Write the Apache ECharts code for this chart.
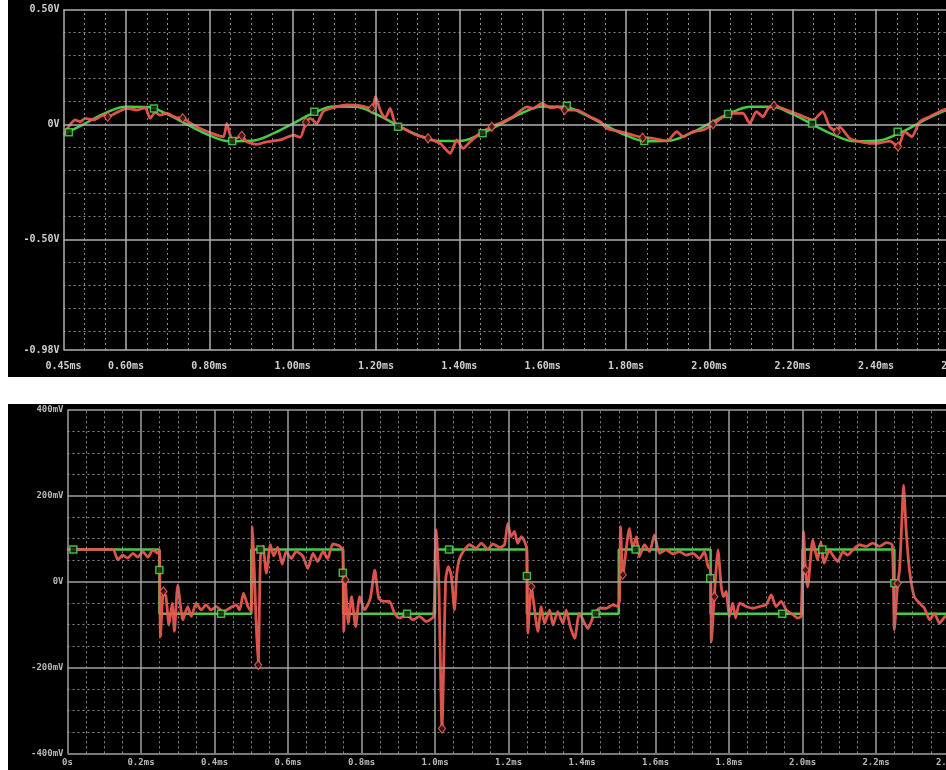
<!DOCTYPE html>
<html><head><meta charset="utf-8">
<script src="https://cdn.jsdelivr.net/npm/echarts@6/dist/echarts.min.js"></script>
<style>
html,body{margin:0;padding:0;background:#fff;width:946px;height:770px;overflow:hidden}
#top{position:absolute;left:8px;top:0;width:938px;height:377px;background:#000}
#bot{position:absolute;left:8px;top:404px;width:938px;height:366px;background:#000}
</style></head>
<body><div id="top"></div><div id="bot"></div>
<script>
// ---------- TOP CHART DATA (time in ms, volts) ----------
const topXTicks  = [0.45,0.6,0.8,1.0,1.2,1.4,1.6,1.8,2.0,2.2,2.4,2.6];
const topXLabels = ['0.45ms','0.60ms','0.80ms','1.00ms','1.20ms','1.40ms','1.60ms','1.80ms','2.00ms','2.20ms','2.40ms','2.60ms'];
const topYTicks  = [0.5,0,-0.5,-0.98];
const topYLabels = ['0.50V','0V','-0.50V','-0.98V'];

const topGreenT = [0.45,0.50,0.55,0.60,0.65,0.70,0.75,0.80,0.85,0.90,0.95,1.00,1.05,1.10,1.15,1.20,1.25,1.30,1.35,1.40,1.45,1.50,1.55,1.60,1.65,1.70,1.75,1.80,1.85,1.90,1.95,2.00,2.05,2.10,2.15,2.20,2.25,2.30,2.35,2.40,2.45,2.50,2.55,2.60];
const topGreenV = [-0.043,0.003,0.049,0.077,0.076,0.044,-0.003,-0.047,-0.073,-0.071,-0.042,0.004,0.050,0.078,0.077,0.045,-0.002,-0.046,-0.072,-0.072,-0.043,0.003,0.050,0.078,0.077,0.044,-0.003,-0.047,-0.073,-0.071,-0.042,0.004,0.049,0.077,0.077,0.045,-0.002,-0.046,-0.073,-0.071,-0.043,0.003,0.049,0.077];

const topRedT = [0.454,0.478,0.490,0.502,0.522,0.546,0.556,0.582,0.602,0.626,0.646,0.658,0.670,0.682,0.698,0.718,0.736,0.762,0.786,0.818,0.834,0.842,0.850,0.857,0.878,0.890,0.914,0.938,0.970,1.002,1.018,1.032,1.042,1.058,1.073,1.097,1.130,1.162,1.190,1.199,1.210,1.222,1.234,1.246,1.266,1.298,1.325,1.354,1.378,1.394,1.409,1.426,1.450,1.478,1.505,1.529,1.562,1.577,1.598,1.618,1.637,1.653,1.682,1.713,1.738,1.754,1.786,1.817,1.840,1.865,1.898,1.922,1.937,1.961,1.985,2.009,2.033,2.057,2.081,2.097,2.113,2.129,2.141,2.155,2.186,2.218,2.249,2.272,2.289,2.306,2.313,2.337,2.369,2.402,2.434,2.453,2.469,2.486,2.505,2.529,2.561,2.600];
const topRedV = [-0.031,0.020,0.012,0.027,0.020,0.041,0.034,0.056,0.070,0.063,0.073,0.027,0.053,0.041,0.049,0.031,0.027,-0.002,-0.024,-0.046,-0.053,0.005,-0.046,-0.067,-0.049,-0.075,-0.086,-0.075,-0.067,-0.046,-0.056,0.010,0.027,0.005,0.056,0.073,0.085,0.082,0.070,0.121,0.063,0.027,0.070,0.005,-0.017,-0.046,-0.060,-0.082,-0.125,-0.067,-0.104,-0.075,-0.038,-0.010,0.012,0.034,0.077,0.070,0.092,0.073,0.077,0.063,0.063,0.034,0.012,-0.017,-0.031,-0.046,-0.057,-0.060,-0.072,-0.031,-0.053,-0.031,-0.024,0.001,0.034,0.049,0.049,0.005,0.056,0.034,0.070,0.082,0.063,0.041,0.020,0.056,-0.010,-0.031,-0.010,-0.060,-0.077,-0.082,-0.072,-0.096,-0.031,-0.053,0.012,0.034,0.063,0.080];

const topGreenMarkT = [0.463,0.667,0.855,1.052,1.253,1.456,1.658,1.844,2.045,2.247,2.452];
const topGreenMarkV = [-0.034,0.070,-0.072,0.056,-0.010,-0.038,0.082,-0.072,0.046,0.005,-0.031];
const topRedMarkT = [0.556,0.736,0.878,1.032,1.190,1.325,1.478,1.653,1.840,2.009,2.155,2.306,2.453];
const topRedMarkV = [0.034,0.027,-0.049,0.010,0.070,-0.060,-0.010,0.063,-0.057,0.001,0.082,-0.031,-0.096];

// ---------- BOTTOM CHART DATA (time in ms, mV) ----------
const botXTicks  = [0,0.2,0.4,0.6,0.8,1.0,1.2,1.4,1.6,1.8,2.0,2.2,2.4];
const botXLabels = ['0s','0.2ms','0.4ms','0.6ms','0.8ms','1.0ms','1.2ms','1.4ms','1.6ms','1.8ms','2.0ms','2.2ms','2.4ms'];
const botYTicks  = [400,200,0,-200,-400];
const botYLabels = ['400mV','200mV','0V','-200mV','-400mV'];

const botGreenT = [0,0.25,0.25,0.5,0.5,0.75,0.75,1.0,1.0,1.25,1.25,1.5,1.5,1.75,1.75,2.0,2.0,2.25,2.25,2.4];
const botGreenV = [75,75,-75,-75,75,75,-75,-75,75,75,-75,-75,75,75,-75,-75,75,75,-75,-75];

const botRedT = [0,0.123,0.137,0.150,0.164,0.178,0.191,0.205,0.219,0.232,0.246,0.250,0.253,0.261,0.268,0.276,0.285,0.291,0.300,0.314,0.327,0.337,0.350,0.364,0.377,0.391,0.405,0.423,0.441,0.459,0.468,0.479,0.491,0.500,0.503,0.507,0.513,0.519,0.525,0.532,0.541,0.552,0.561,0.572,0.584,0.595,0.609,0.622,0.640,0.654,0.668,0.681,0.695,0.708,0.722,0.740,0.749,0.752,0.756,0.764,0.773,0.784,0.795,0.808,0.824,0.836,0.847,0.860,0.876,0.890,0.903,0.922,0.940,0.958,0.976,0.996,1.003,1.010,1.019,1.029,1.036,1.044,1.053,1.059,1.067,1.080,1.094,1.112,1.126,1.144,1.157,1.176,1.189,1.198,1.207,1.216,1.225,1.235,1.244,1.250,1.253,1.262,1.280,1.289,1.298,1.312,1.321,1.334,1.348,1.357,1.368,1.380,1.393,1.416,1.434,1.448,1.466,1.484,1.497,1.502,1.505,1.511,1.529,1.538,1.548,1.556,1.570,1.584,1.597,1.611,1.629,1.647,1.665,1.684,1.702,1.720,1.733,1.743,1.750,1.752,1.760,1.770,1.779,1.785,1.792,1.801,1.810,1.818,1.829,1.847,1.865,1.883,1.901,1.915,1.928,1.942,1.956,1.974,1.987,1.996,2.003,2.008,2.014,2.028,2.041,2.050,2.059,2.073,2.082,2.096,2.110,2.123,2.137,2.155,2.173,2.191,2.209,2.228,2.244,2.250,2.259,2.264,2.270,2.275,2.282,2.291,2.304,2.318,2.332,2.346,2.359,2.373,2.389,2.400];
const botRedV = [75,75,51,62,55,66,57,70,57,74,66,74,-128,-23,-35,-101,-50,-116,-8,-89,-58,-81,-50,-66,-54,-66,-58,-70,-62,-54,-66,-27,-58,-70,128,58,-89,-194,58,82,20,86,60,80,41,70,54,70,60,31,66,47,70,54,88,83,74,-116,4,-97,-35,-105,-35,-66,-39,27,-39,-46,-46,-74,-85,-77,-89,-81,-93,-81,121,12,-342,4,35,16,-66,16,54,74,86,78,90,75,88,80,86,136,105,117,89,105,93,74,-120,-12,-116,-58,-97,-66,-101,-70,-97,-66,-105,-132,-74,-109,-74,-62,-62,-54,-58,-43,128,16,124,78,105,58,86,70,109,66,74,65,70,62,66,54,70,35,27,-140,-35,74,-12,-35,-23,-81,-50,-85,-50,-58,-62,-58,-54,-31,-58,-46,-66,-77,-85,-81,117,27,-12,97,50,93,43,74,62,47,70,62,74,86,82,90,82,91,86,-112,-4,27,136,225,121,27,-35,-50,-62,-89,-74,-97,-81,-88];

const botGreenMarkT = [0.016,0.250,0.418,0.525,0.749,0.924,1.038,1.250,1.437,1.546,1.749,1.945,2.054,2.250];
const botGreenMarkV = [75,27,-75,75,21,-75,75,13,-75,75,8,-75,75,-4];
const botRedMarkT = [0.261,0.519,0.756,1.019,1.262,1.511,1.760,2.008,2.259];
const botRedMarkV = [-23,-194,4,-342,-12,16,-35,27,-4];

// ---------- helpers ----------
const zip = (a, b) => a.map((v, i) => [v, b[i]]);
const labelOf = (ticks, labels) => (val) => {
  const i = ticks.findIndex(t => Math.abs(t - val) < 1e-6);
  return i >= 0 ? labels[i] : '';
};
function gridLines(xMin, xMax, xStep, xMajors, yMin, yMax, yStep, yMajors, major, minor) {
  const items = [];
  const isMaj = (arr, v) => arr.some(m => Math.abs(m - v) < 1e-6);
  for (let v = Math.ceil(xMin / xStep - 1e-6) * xStep; v <= xMax + 1e-6; v += xStep) {
    const r = Math.round(v * 1000) / 1000;
    if (!isMaj(xMajors, r)) items.push({ xAxis: r, lineStyle: minor });
  }
  for (let v = Math.ceil(yMin / yStep - 1e-6) * yStep; v <= yMax + 1e-6; v += yStep) {
    const r = Math.round(v * 1000) / 1000;
    if (!isMaj(yMajors, r)) items.push({ yAxis: r, lineStyle: minor });
  }
  xMajors.forEach(v => items.push({ xAxis: v, lineStyle: major }));
  yMajors.forEach(v => items.push({ yAxis: v, lineStyle: major }));
  return items;
}

const RED = '#e8574f', GREEN = '#45cc45';

function makeOption(cfg) {
  return {
    animation: false,
    backgroundColor: '#000',
    grid: Object.assign({ outerBoundsMode: 'none', containLabel: false }, cfg.grid),
    xAxis: {
      type: 'value', min: cfg.xMin, max: cfg.xMax,
      axisLine: { show: false }, axisTick: { show: false }, splitLine: { show: false },
      axisLabel: {
        customValues: cfg.xTicks, formatter: labelOf(cfg.xTicks, cfg.xLabels),
        color: cfg.labelColor, fontFamily: 'DejaVu Sans Mono', fontSize: cfg.fontSize,
        fontWeight: 'bold', margin: cfg.xMargin
      }
    },
    yAxis: {
      type: 'value', min: cfg.yMin, max: cfg.yMax,
      axisLine: { show: false }, axisTick: { show: false }, splitLine: { show: false },
      axisLabel: {
        customValues: cfg.yTicks, formatter: labelOf(cfg.yTicks, cfg.yLabels),
        color: cfg.labelColor, fontFamily: 'DejaVu Sans Mono', fontSize: cfg.fontSize,
        fontWeight: 'bold', margin: 4
      }
    },
    series: [
      {
        type: 'line', z: 1, silent: true, symbol: 'none',
        data: [[cfg.xMin, cfg.yMin]], lineStyle: { opacity: 0 },
        markLine: {
          silent: true, symbol: 'none', label: { show: false }, animation: false,
          data: gridLines(cfg.xMin, cfg.xMax, cfg.xMinorStep, cfg.xMajors,
                          cfg.yMin, cfg.yMax, cfg.yMinorStep, cfg.yMajors,
                          { color: cfg.majorColor, width: 1.5, type: 'solid' },
                          { color: '#8a8a8a', width: 1, type: [2, 3] })
        }
      },
      {
        type: 'line', z: 3, symbol: 'none', smooth: cfg.greenSmooth,
        data: cfg.green, lineStyle: { color: GREEN, width: 2.5 }
      },
      {
        type: 'line', z: 4, symbol: 'none', smooth: 0.2,
        data: cfg.red, lineStyle: { color: RED, width: 2.8, opacity: 0.95 }
      },
      {
        type: 'scatter', z: 6, symbol: 'rect', symbolSize: 7,
        data: cfg.greenMarks,
        itemStyle: { color: '#0b1e0b', borderColor: '#55dd55', borderWidth: 1.5 }
      },
      {
        type: 'scatter', z: 7, symbol: 'diamond', symbolSize: [7, 9],
        data: cfg.redMarks,
        itemStyle: { color: '#2a0808', borderColor: '#f06a62', borderWidth: 1.3 }
      }
    ]
  };
}

const topChart = echarts.init(document.getElementById('top'), null, { renderer: 'canvas' });
topChart.setOption(makeOption({
  grid: { left: 55.5, top: 9.5, right: -13.3, bottom: 27 },
  xMin: 0.45, xMax: 2.6, yMin: -0.98, yMax: 0.5,
  xTicks: topXTicks, xLabels: topXLabels, yTicks: topYTicks, yLabels: topYLabels,
  xMajors: [0.45].concat(topXTicks.slice(1)), yMajors: topYTicks,
  xMinorStep: 0.05, yMinorStep: 0.1,
  labelColor: '#cfcfcf', fontSize: 10, xMargin: 11, majorColor: '#b0b0b0',
  green: zip(topGreenT, topGreenV), red: zip(topRedT, topRedV),
  greenMarks: zip(topGreenMarkT, topGreenMarkV), redMarks: zip(topRedMarkT, topRedMarkV),
  greenSmooth: 0.4
}));

const botChart = echarts.init(document.getElementById('bot'), null, { renderer: 'canvas' });
botChart.setOption(makeOption({
  grid: { left: 59.5, top: 6, right: -3.5, bottom: 16.7 },
  xMin: 0, xMax: 2.4, yMin: -400, yMax: 400,
  xTicks: botXTicks, xLabels: botXLabels, yTicks: botYTicks, yLabels: botYLabels,
  xMajors: botXTicks, yMajors: botYTicks,
  xMinorStep: 0.05, yMinorStep: 50,
  labelColor: '#b8b8b8', fontSize: 9, xMargin: 5, majorColor: '#a0a0a0',
  green: zip(botGreenT, botGreenV), red: zip(botRedT, botRedV),
  greenMarks: zip(botGreenMarkT, botGreenMarkV), redMarks: zip(botRedMarkT, botRedMarkV),
  greenSmooth: false
}));
</script>
</body></html>
